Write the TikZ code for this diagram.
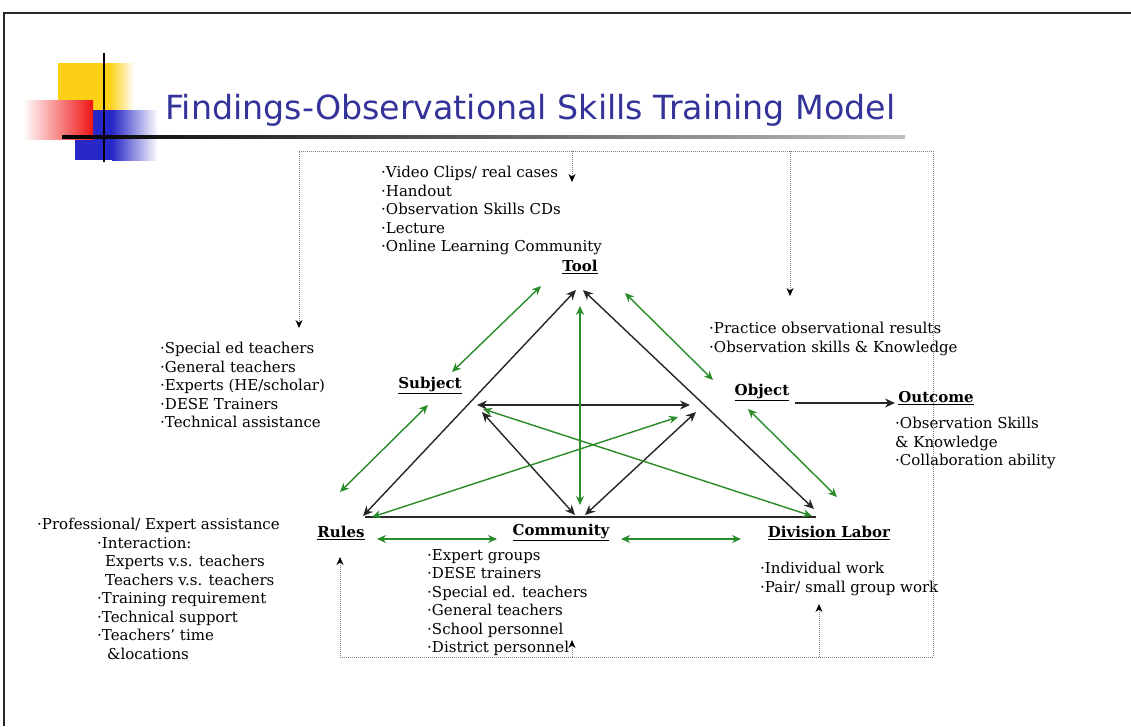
\documentclass[tikz,border=0pt]{standalone}
\usepackage{fontspec}
\setmainfont{DejaVu Serif}
\newfontfamily\titlefont{DejaVu Sans}
\usetikzlibrary{arrows.meta}
\definecolor{grn}{RGB}{40,140,40}
\definecolor{ttl}{RGB}{51,51,153}
\definecolor{ylw}{RGB}{252,208,20}
\definecolor{rd}{RGB}{240,20,20}
\definecolor{bl}{RGB}{40,40,200}
\begin{document}
\begin{tikzpicture}[x=1pt,y=-1pt,
  lst/.style={anchor=north west, inner sep=0pt, align=left, font=\fontsize{15}{18.5}\selectfont},
  lbl/.style={inner sep=0pt, font=\bfseries\fontsize{15}{18}\selectfont},
  blk/.style={draw=black!85, line width=1.4pt, {Stealth[length=10pt,width=9pt]}-{Stealth[length=10pt,width=9pt]}},
  gr/.style={draw=grn, line width=1.4pt, {Stealth[length=9pt,width=8pt]}-{Stealth[length=9pt,width=8pt]}},
  dotl/.style={draw=black!50, line width=0.9pt, dash pattern=on 1pt off 1pt},
  dtip/.style={dotl, -{Stealth[length=8pt,width=7pt,color=black]}},
  dtips/.style={dotl, {Stealth[length=8pt,width=7pt,color=black]}-{Stealth[length=8pt,width=7pt,color=black]}}
]
\useasboundingbox (0,0) rectangle (1131,726);
\fill[white] (0,0) rectangle (1131,726);
% outer frame
\draw[black!85, line width=2.2pt] (4,726) -- (4,13) -- (1131,13);

% decoration
\fill[ylw] (58,63) rectangle (110,118);
\shade[left color=ylw, right color=white] (110,63) rectangle (134,118);
\fill[bl] (75,110) rectangle (112,160);
\shade[left color=bl, right color=white] (112,110) rectangle (158,160);
\shade[left color=white, right color=rd] (23,100) rectangle (93,139);
\draw[black, line width=2pt] (104,53) -- (104,162);
\shade[left color=black, right color=black!25] (62,135.8) rectangle (905,138.4);

% title
\node[anchor=base west, inner sep=0pt, text=ttl] (title) at (165,119)
  {\resizebox{730pt}{!}{\titlefont Findings-Observational Skills Training Model}};

% labels
\node[lbl] (tool) at (580,267) {\underline{Tool}};
\node[lbl] (subject) at (430,385) {\underline{Subject}};
\node[lbl] (object) at (762,392) {\underline{Object}};
\node[lbl] (outcome) at (936,398) {\underline{Outcome}};
\node[lbl] (rules) at (341,533) {\underline{Rules}};
\node[lbl] (community) at (561,532) {\underline{Community}};
\node[lbl] (division) at (829,533) {\underline{Division Labor}};

% lists
\node[lst] (toollist) at (381,166) {·Video Clips/ real cases\\ ·Handout\\ ·Observation Skills CDs\\ ·Lecture\\ ·Online Learning Community};
\node[lst] (subjlist) at (160,342) {·Special ed teachers\\ ·General teachers\\ ·Experts (HE/scholar)\\ ·DESE Trainers\\ ·Technical assistance};
\node[lst] (objlist) at (709,322) {·Practice observational results\\ ·Observation skills \& Knowledge};
\node[lst] (outlist) at (895,417) {·Observation Skills\\ \& Knowledge\\ ·Collaboration ability};
\node[lst] (commlist) at (427,549) {·Expert groups\\ ·DESE trainers\\ ·Special ed. teachers\\ ·General teachers\\ ·School personnel\\ ·District personnel};
\node[lst] (divlist) at (760,562) {·Individual work\\ ·Pair/ small group work};
\node[lst] (rulelist) at (37,518) {·Professional/ Expert assistance\\
  \hspace*{60pt}·Interaction:\\
  \hspace*{68pt}Experts v.s. teachers\\
  \hspace*{68pt}Teachers v.s. teachers\\
  \hspace*{60pt}·Training requirement\\
  \hspace*{60pt}·Technical support\\
  \hspace*{60pt}·Teachers’ time\\
  \hspace*{70pt}\&locations};

% coordinates for triangle
\coordinate (apexL) at (576,290);
\coordinate (apexR) at (583,290);
\coordinate (bl) at (363,516);
\coordinate (br) at (814,509);
\coordinate (baseL) at (365,517);
\coordinate (baseR) at (816,517);
\coordinate (hL) at (477,405);
\coordinate (hR) at (690,405);
\coordinate (cL) at (575,515);
\coordinate (cR) at (585,515);
\coordinate (iL) at (482,412);
\coordinate (iR) at (696,412);
\coordinate (vT) at (580,306);
\coordinate (vB) at (580,505);
\coordinate (gRl) at (372,517);
\coordinate (gRr) at (678,417);
\coordinate (gDl) at (483,409);
\coordinate (gDr) at (812,516);
\coordinate (ts1) at (541,286);
\coordinate (ts2) at (452,372);
\coordinate (to1) at (625,293);
\coordinate (to2) at (713,380);
\coordinate (sr1) at (428,405);
\coordinate (sr2) at (340,492);
\coordinate (od1) at (748,409);
\coordinate (od2) at (837,497);
\coordinate (rc1) at (377,539);
\coordinate (rc2) at (497,539);
\coordinate (cd1) at (621,539);
\coordinate (cd2) at (741,539);
\coordinate (oo1) at (795,403);
\coordinate (oo2) at (895,403);

% triangle black
\draw[blk] (apexL) -- (bl);
\draw[blk] (apexR) -- (br);
\draw[draw=black!85, line width=1.6pt] (baseL) -- (baseR);
\draw[blk] (hL) -- (hR);
\draw[blk] (cL) -- (iL);
\draw[blk] (cR) -- (iR);
\draw[draw=black!85, line width=1.4pt, -{Stealth[length=10pt,width=9pt]}] (oo1) -- (oo2);

% green
\draw[gr] (vT) -- (vB);
\draw[gr] (gRl) -- (gRr);
\draw[gr] (gDl) -- (gDr);
\draw[gr] (ts1) -- (ts2);
\draw[gr] (to1) -- (to2);
\draw[gr] (sr1) -- (sr2);
\draw[gr] (od1) -- (od2);
\draw[gr] (rc1) -- (rc2);
\draw[gr] (cd1) -- (cd2);

% dotted frame
\coordinate (fa) at (299,328);
\coordinate (fb) at (933,151);
\coordinate (fc) at (340,657);
\coordinate (fd) at (340,557);
\draw[dtips] (fa) |- (fb) |- (fc) -- (fd);
\coordinate (t1) at (572,151);
\coordinate (t2) at (572,182);
\coordinate (o1) at (790,151);
\coordinate (o2) at (790,296);
\coordinate (c1) at (572,657);
\coordinate (c2) at (572,640);
\coordinate (d1) at (819,657);
\coordinate (d2) at (819,604);
\draw[dtip] (t1) -- (t2);
\draw[dtip] (o1) -- (o2);
\draw[dtip] (c1) -- (c2);
\draw[dtip] (d1) -- (d2);
\end{tikzpicture}
\end{document}
